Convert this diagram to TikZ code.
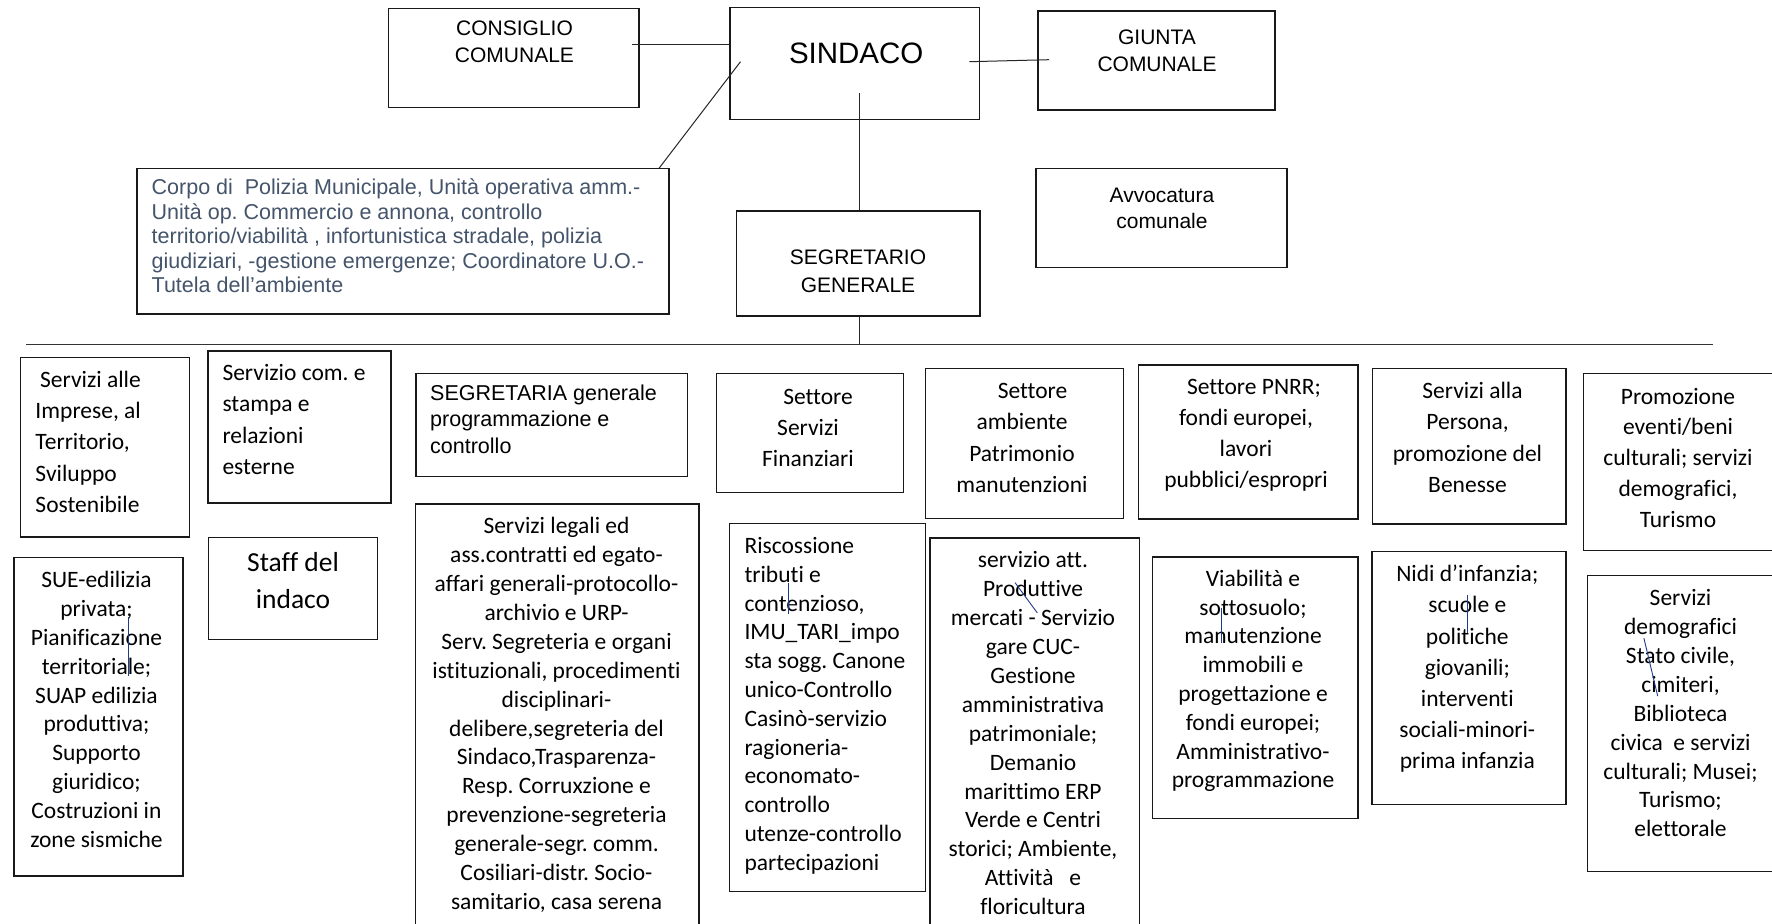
\documentclass[tikz,border=0pt]{standalone}
\usepackage{fontspec}
\setmainfont{Carlito}[Ligatures={NoCommon}]
\newfontfamily\arialf{Liberation Sans}
\usetikzlibrary{fit}
\definecolor{polblue}{HTML}{44546A}
\definecolor{curblue}{HTML}{1F3A8A}
\newcommand\fsz[2]{\fontsize{#1bp}{#2bp}\selectfont}
\newcommand\st{\rule{0pt}{20bp}}
\newcommand\sta{\rule{0pt}{18bp}}
\frenchspacing
\tikzset{
  bx/.style={draw=black!90, line width=1.5bp, inner sep=0pt, rectangle},
  conn/.style={draw=black!85, line width=1bp},
  cursor/.style={draw=curblue, line width=0.9bp},
  ar/.style={inner sep=0pt, anchor=north, align=center, font=\arialf\fsz{21}{26.6}},
  cc/.style={inner sep=0pt, anchor=north, align=center},
  cl/.style={inner sep=0pt, anchor=north west, align=left},
}
\begin{document}
\frenchspacing
\begin{tikzpicture}[x=1bp,y=-1bp]
\useasboundingbox (0,0) rectangle (1772,923);
\fill[white] (0,0) rectangle (1772,923);

% ---------- top boxes ----------
\node[bx, fit={(388.6,8.3) (639,107.7)}] (consiglio) {};
\node[bx, fit={(730,7.3) (979.5,119.3)}] (sindaco) {};
\node[bx, fit={(1038,11) (1275,110)}] (giunta) {};
\node[bx, fit={(137,168.3) (668.8,314)}] (polizia) {};
\node[bx, fit={(1036,168.7) (1287,267.7)}] (avvocatura) {};
\node[bx, fit={(736.5,211) (980,316)}] (segretario) {};

\node[ar] (consiglio-t) at (514.5,17.2) {\sta CONSIGLIO\\COMUNALE};
\node[inner sep=0pt, anchor=base, font=\arialf\fsz{29.5}{35}] (sindaco-t) at (856.2,63.3) {SINDACO};
\node[ar] (giunta-t) at (1157,26.2) {\sta GIUNTA\\COMUNALE};
\node[ar] (avvocatura-t) at (1162,183.8) {\sta Avvocatura\\comunale};
\node[ar, font=\arialf\fsz{21}{27.7}] (segretario-t) at (858,246.2) {\sta SEGRETARIO\\GENERALE};
\node[cl, font=\arialf\fsz{21.5}{24.5}, text=polblue] (polizia-t) at (151.5,176.3)
  {\sta Corpo di\ \ Polizia Municipale, Unità operativa amm.-\\
   Unità op. Commercio e annona, controllo\\
   territorio/viabilità , infortunistica stradale, polizia\\
   giudiziari, -gestione emergenze; Coordinatore U.O.-\\
   Tutela dell’ambiente};

% ---------- connectors ----------
\coordinate (cA) at (631.5,44.7);
\coordinate (cB) at (740.5,61.7);
\coordinate (cC) at (659,168.3);
\coordinate (cD) at (969.3,61.7);
\coordinate (cE) at (1049,59.7);
\coordinate (cF) at (859.5,93.3);
\coordinate (cG) at (859.5,344);
\coordinate (hL) at (26,344);
\coordinate (hR) at (1713,344);
\draw[conn] (cA) -- (cA -| sindaco.west);
\draw[conn] (cB) -- (cC);
\draw[conn] (cD) -- (cE);
\draw[conn] (cF) -- (cF |- segretario.north);
\draw[conn] (cF |- segretario.south) -- (cG);
\draw[conn, draw=black!80] (hL) -- (hR);

% ---------- lower boxes ----------
\node[bx, fit={(20.5,357.6) (189.7,536.9)}] (imprese) {};
\node[bx, fit={(208,350.8) (391,502.8)}] (comm) {};
\node[bx, fit={(416,373.5) (687.5,476.4)}] (segretaria) {};
\node[bx, fit={(13.8,557.7) (183,875.8)}] (sue) {};
\node[bx, fit={(208.5,537.3) (377.7,639.4)}] (staff) {};
\node[bx, fit={(415.5,504) (699,940)}] (legali) {};
\node[bx, fit={(716.7,373.5) (903.3,492.6)}] (fin) {};
\node[bx, fit={(925.7,368.6) (1123.3,518.3)}] (ambiente) {};
\node[bx, fit={(729.7,523.6) (925.7,891.7)}] (riscossione) {};
\node[bx, fit={(930,538) (1139.3,940)}] (attivita) {};
\node[bx, fit={(1138.7,364.8) (1357.9,519)}] (pnrr) {};
\node[bx, fit={(1372.5,368.6) (1566,524)}] (persona) {};
\node[bx, fit={(1583.5,373.5) (1776,550.3)}] (promozione) {};
\node[bx, fit={(1152.4,557) (1358,818.7)}] (viabilita) {};
\node[bx, fit={(1372,551.3) (1566,804.7)}] (nidi) {};
\node[bx, fit={(1587.3,575.5) (1776,871.7)}] (demografici) {};

\node[cl, font=\fsz{23.5}{31.4}] (imprese-t) at (35.3,366.8)
  {\st\hspace*{4.7bp}Servizi alle\\Imprese, al\\Territorio,\\Sviluppo\\Sostenibile};
\node[cl, font=\fsz{23.5}{31.4}] (comm-t) at (222.3,360.3)
  {\st Servizio com. e\\stampa e\\relazioni\\esterne};
\node[cl, font=\arialf\fsz{21.5}{26.5}] (segretaria-t) at (430,381.9)
  {\sta SEGRETARIA generale\\programmazione e\\controllo};
\node[cc, font=\fsz{23.5}{28.9}] (sue-t) at (96.5,567.2)
  {\st SUE-edilizia\\privata;\\Pianificazione\\territoriale;\\SUAP edilizia\\produttiva;\\Supporto\\giuridico;\\Costruzioni in\\zone sismiche};
\node[cc, font=\fsz{27.5}{36.7}] (staff-t) at (293,547.5)
  {\rule{0pt}{24bp}Staff del\\indaco};
\node[cc, font=\fsz{23.5}{28.9}] (legali-t) at (556.5,513.5)
  {\st Servizi legali ed\\ass.contratti ed egato-\\affari generali-protocollo-\\archivio e URP-\\Serv. Segreteria e organi\\istituzionali, procedimenti\\disciplinari-\\delibere,segreteria del\\Sindaco,Trasparenza-\\Resp. Corruxzione e\\prevenzione-segreteria\\generale-segr. comm.\\Cosiliari-distr. Socio-\\samitario, casa serena};
\node[cc, font=\fsz{23.5}{31.2}] (fin-t) at (808,383.8)
  {\st\hspace*{20bp}Settore\\Servizi\\Finanziari};
\node[cc, font=\fsz{23.5}{31.5}] (ambiente-t) at (1022,378.1)
  {\st\hspace*{21bp}Settore\\ambiente\\Patrimonio\\manutenzioni};
\node[cl, font=\fsz{23.5}{28.8}] (riscossione-t) at (744.3,533.2)
  {\st Riscossione\\tributi e\\contenzioso,\\IMU\_TARI\_impo\\sta sogg. Canone\\unico-Controllo\\Casinò-servizio\\ragioneria-\\economato-\\controllo\\utenze-controllo\\partecipazioni};
\node[cc, font=\fsz{23.5}{28.9}] (attivita-t) at (1033,547.6)
  {\st servizio att.\\Produttive\\mercati - Servizio\\gare CUC-\\Gestione\\amministrativa\\patrimoniale;\\Demanio\\marittimo ERP\\Verde e Centri\\storici; Ambiente,\\Attività\ \ \ e\\floricultura};
\node[cc, font=\fsz{23.5}{31}] (pnrr-t) at (1246,374.3)
  {\st\hspace*{16bp}Settore PNRR;\\fondi europei,\\lavori\\pubblici/espropri};
\node[cc, font=\fsz{23.5}{31.5}] (persona-t) at (1467.5,378.1)
  {\st\hspace*{10bp}Servizi alla\\Persona,\\promozione del\\Benesse};
\node[cc, font=\fsz{23.5}{30.9}] (promozione-t) at (1678,383.8)
  {\st Promozione\\eventi/beni\\culturali; servizi\\demografici,\\Turismo};
\node[cc, font=\fsz{23.5}{28.8}] (viabilita-t) at (1253,566.1)
  {\st Viabilità e\\sottosuolo;\\manutenzione\\immobili e\\progettazione e\\fondi europei;\\Amministrativo-\\programmazione};
\node[cc, font=\fsz{23.5}{31.1}] (nidi-t) at (1467.3,561.6)
  {\st Nidi d’infanzia;\\scuole e\\politiche\\giovanili;\\interventi\\sociali-minori-\\prima infanzia};
\node[cc, font=\fsz{23.5}{28.9}] (demografici-t) at (1680.5,585.4)
  {\st Servizi\\demografici\\Stato civile,\\cimiteri,\\Biblioteca\\civica\ \ e servizi\\culturali; Musei;\\Turismo;\\elettorale};

% ---------- stray cursor marks ----------
\draw[cursor] (128.6,617.4) -- (128.6,676);
\draw[cursor] (788.3,583.4) -- (788.3,613.7);
\draw[cursor] (1015,582.6) -- (1037.3,612.9);
\draw[cursor] (1221.8,608) -- (1221.8,643.2);
\draw[cursor] (1467.3,594.8) -- (1467.3,632.6);
\draw[cursor] (1643.9,638.2) -- (1657.7,696.1);
\end{tikzpicture}
\end{document}
